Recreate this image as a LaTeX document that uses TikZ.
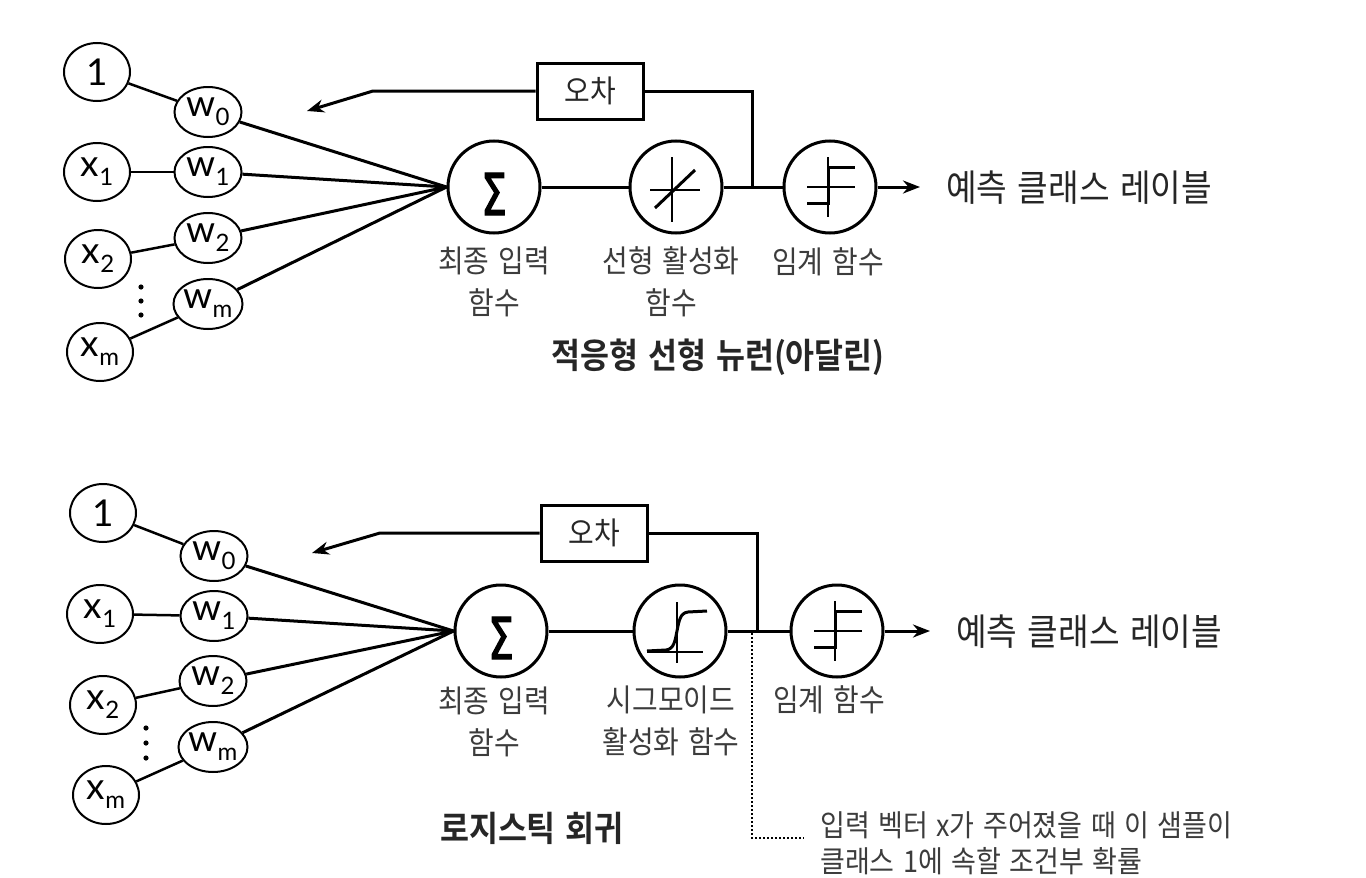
\documentclass[tikz,border=0pt]{standalone}
\usepackage{fontspec}
\newfontfamily\kr[FakeStretch=0.9,WordSpace=1.4,BoldFont={Noto Sans CJK KR Bold}]{Noto Sans CJK KR}
\newfontfamily\lat{Lato}
\newfontfamily\symf[FakeStretch=0.7,FakeBold=2]{DejaVu Sans}
\usetikzlibrary{arrows.meta,shapes.geometric}
\definecolor{labgray}{HTML}{3C3C3C}
\definecolor{txtdark}{HTML}{262626}
\newcommand{\wsub}[2]{#1\raisebox{-9pt}{\fontsize{24}{24}\selectfont #2}}
\tikzset{
  inp/.style={draw, ellipse, line width=2pt, minimum width=66pt, minimum height=58pt, inner sep=0pt,
    font=\lat\fontsize{37}{37}\selectfont},
  wnode/.style={inp, minimum width=67pt, minimum height=50pt},
  neuron/.style={circle, draw, line width=3pt, minimum size=92pt, inner sep=0pt},
  errbox/.style={draw, line width=3pt, minimum width=106pt, minimum height=56pt, inner sep=0pt,
    font=\kr\fontsize{31}{31}\selectfont, text=txtdark},
  lab/.style={font=\kr\fontsize{31}{42}\selectfont, text=labgray, align=center, inner sep=0pt},
  outlab/.style={font=\kr\fontsize{37}{40}\selectfont, text=txtdark, inner sep=0pt, anchor=west},
  ttl/.style={font=\kr\bfseries\fontsize{35}{40}\selectfont, text=txtdark, inner sep=0pt},
  conn/.style={line width=3pt},
  thin/.style={line width=2.5pt},
  arr/.style={line width=3pt, -{Stealth[length=17pt,width=13pt]}},
  axis/.style={line width=2pt},
  curve/.style={line width=3pt},
  sigma/.style={font=\symf\fontsize{58}{58}\selectfont, inner sep=0pt},
  dotline/.style={line width=2pt, dash pattern=on 2pt off 2pt}
}
\begin{document}
\begin{tikzpicture}[x=1pt,y=-1pt]
\useasboundingbox[fill=white] (0,0) rectangle (1366,878);

% ================= top panel =================
\node[inp]   (one)  at (97,72)  {1};
\node[wnode] (w0)   at (208,112) {\wsub{w}{0}};
\node[inp]   (x1)   at (97,172) {\wsub{x}{1}};
\node[wnode] (w1)   at (208,172) {\wsub{w}{1}};
\node[inp]   (x2)   at (98,259) {\wsub{x}{2}};
\node[wnode] (w2)   at (208,238) {\wsub{w}{2}};
\node[inp]   (xm)   at (100,352) {\wsub{x}{m}};
\node[wnode] (wm)   at (208,304) {\wsub{w}{m}};
\fill (141,287) circle (2.6pt) (141,301) circle (2.6pt) (141,315) circle (2.6pt);

\node[neuron] (sum) at (494,187) {};
\node[sigma] (sumsym) at (494,194) {Σ};
\node[neuron] (act) at (676,187) {};
\node[neuron] (thr) at (830,187) {};
\node[errbox] (err) at (590,91) {오차};

\draw[thin] (one) -- (w0);
\draw[thin] (x1) -- (w1);
\draw[thin] (x2) -- (w2);
\draw[thin] (xm) -- (wm);
\foreach \w in {w0,w1,w2,wm} \draw[conn] (\w) -- (sum.west);
\draw[conn] (sum) -- (act);
\draw[conn] (act) -- (thr);
\coordinate (j1) at (752,187);
\draw[conn] (err.east) -| (j1);
\coordinate (b1) at (373,91);
\coordinate (t1) at (307,111);
\draw[arr] (err.west) -- (b1) -- (t1);
\coordinate (o1) at (920,187);
\draw[arr] (thr.east) -- (o1);
\node[outlab] (out1) at (946,188) {예측 클래스 레이블};

% linear activation symbol
\begin{scope}[shift={(act.center)}]
  \draw[axis] (-4,-30) -- (-4,35);
  \draw[axis] (-26,3) -- (24,3);
  \draw[curve] (-21,21) -- (19,-17);
\end{scope}
% threshold symbol
\begin{scope}[shift={(thr.center)}]
  \draw[axis] (-2,-30) -- (-2,30);
  \draw[axis] (-23,0) -- (25,0);
  \draw[curve] (-23,16) -- (-2,16) -- (-2,-20) -- (25,-20);
\end{scope}

\node[lab] (l1) at (494,282) {최종 입력\\함수};
\node[lab] (l2) at (671,282) {선형 활성화\\함수};
\node[lab] (l3) at (828,262) {임계 함수};
\node[ttl] (title1) at (718,357) {적응형 선형 뉴런(아달린)};

% ================= bottom panel =================
\node[inp]   (one2) at (103,513) {1};
\node[wnode] (v0)   at (214,556) {\wsub{w}{0}};
\node[inp]   (y1)   at (100,614) {\wsub{x}{1}};
\node[wnode] (v1)   at (214,616) {\wsub{w}{1}};
\node[inp]   (y2)   at (103,705) {\wsub{x}{2}};
\node[wnode] (v2)   at (213,681) {\wsub{w}{2}};
\node[inp]   (ym)   at (106,795) {\wsub{x}{m}};
\node[wnode] (vm)   at (213,747) {\wsub{w}{m}};
\fill (146,728) circle (2.6pt) (146,743) circle (2.6pt) (146,758) circle (2.6pt);

\node[neuron] (sum2) at (501,631) {};
\node[sigma] (sumsym2) at (501,638) {Σ};
\node[neuron] (sig) at (680,631) {};
\node[neuron] (thr2) at (837,631) {};
\node[errbox] (err2) at (594,533) {오차};

\draw[thin] (one2) -- (v0);
\draw[thin] (y1) -- (v1);
\draw[thin] (y2) -- (v2);
\draw[thin] (ym) -- (vm);
\foreach \w in {v0,v1,v2,vm} \draw[conn] (\w) -- (sum2.west);
\draw[conn] (sum2) -- (sig);
\draw[conn] (sig) -- (thr2);
\coordinate (j2) at (757,631);
\draw[conn] (err2.east) -| (j2);
\coordinate (b2) at (380,533);
\coordinate (t2) at (312,553);
\draw[arr] (err2.west) -- (b2) -- (t2);
\coordinate (o2) at (930,631);
\draw[arr] (thr2.east) -- (o2);
\node[outlab] (out2) at (956,632) {예측 클래스 레이블};

% sigmoid symbol
\begin{scope}[shift={(sig.center)}]
  \draw[axis] (-3,-29) -- (-3,32);
  \draw[axis] (-33,21) -- (23,21);
  \draw[curve] (-33,20) -- (-14,19) .. controls (-6,18) and (-5,10) .. (-3,0)
     .. controls (-1,-10) and (0,-18) .. (8,-19) -- (27,-20);
\end{scope}
% threshold symbol
\begin{scope}[shift={(thr2.center)}]
  \draw[axis] (-2,-30) -- (-2,30);
  \draw[axis] (-23,0) -- (25,0);
  \draw[curve] (-23,16) -- (-2,16) -- (-2,-20) -- (25,-20);
\end{scope}

\node[lab] (m1) at (494,722) {최종 입력\\함수};
\node[lab] (m2) at (671,721) {시그모이드\\활성화 함수};
\node[lab] (m3) at (829,700) {임계 함수};
\node[ttl] (title2) at (532,828) {로지스틱 회귀};

\coordinate (d0) at (752,633);
\coordinate (d1) at (752,838);
\coordinate (d2) at (804,838);
\draw[dotline] (d0) -- (d1) -- (d2);
\node[font=\kr\fontsize{30}{36}\selectfont, text=labgray, align=left, anchor=west, inner sep=0pt]
  (note) at (820,843) {입력 벡터 x가 주어졌을 때 이 샘플이\\클래스 1에 속할 조건부 확률};
\end{tikzpicture}
\end{document}
